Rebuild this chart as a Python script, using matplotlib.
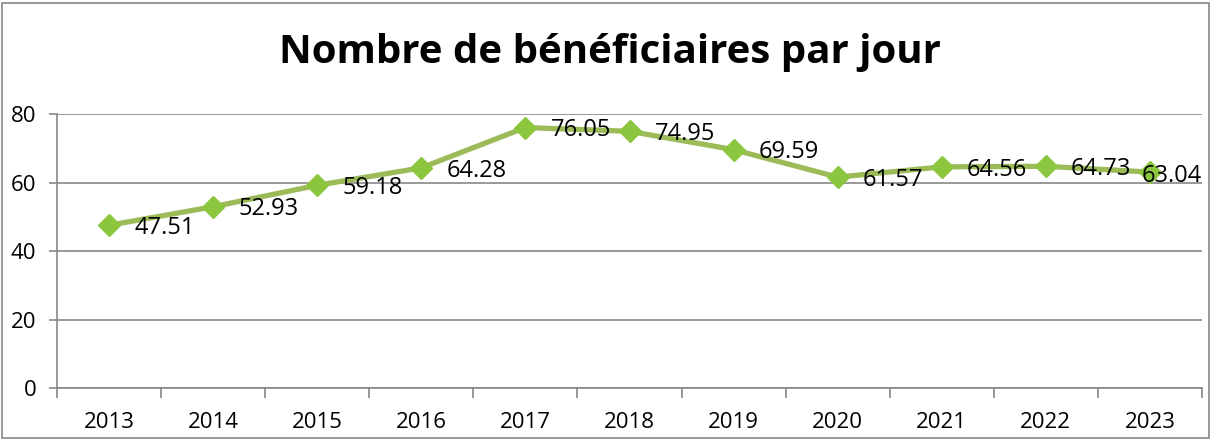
import matplotlib.pyplot as plt
from matplotlib.patches import Rectangle

years = ["2013", "2014", "2015", "2016", "2017", "2018", "2019", "2020", "2021", "2022", "2023"]
values = [47.51, 52.93, 59.18, 64.28, 76.05, 74.95, 69.59, 61.57, 64.56, 64.73, 63.04]
yticks = [0, 20, 40, 60, 80]

plt.rcParams['font.family'] = ['Open Sans', 'DejaVu Sans']

fig = plt.figure(figsize=(12.12, 4.41), dpi=100)
ax = fig.add_axes([57 / 1212, 1 - 388 / 441, (1202 - 57) / 1212, (388 - 114) / 441])

x = list(range(len(years)))
ax.plot(x, values, color="#9bbb59", linewidth=3.8, marker="D", markersize=11,
        markerfacecolor="#8cc63f", markeredgecolor="#8cc63f", zorder=3)
for xi, v in zip(x, values):
    if xi == len(years) - 1:
        # last label has no room on the right, pushed back over the point
        ax.annotate(f"{v:.2f}", (xi, v), xytext=(-6, -3), textcoords="offset points",
                    ha="left", va="center", fontsize=17, zorder=4)
    else:
        ax.annotate(f"{v:.2f}", (xi, v), xytext=(18, -2), textcoords="offset points",
                    ha="left", va="center", fontsize=17, zorder=4)

ax.set_xlim(-0.5, len(years) - 0.5)
ax.set_ylim(0, 80)
ax.set_yticks(yticks)
ax.tick_params(axis="y", labelsize=16, length=6, color="#888888", width=1.2, pad=9)
ax.grid(axis="y", color="#888888", linewidth=1.2)
ax.set_axisbelow(True)

# category labels centred, tick marks at boundaries
ax.set_xticks(x)
ax.set_xticklabels(years, fontsize=16)
ax.tick_params(axis="x", which="major", length=0, pad=17)
ax.set_xticks([i - 0.5 for i in range(len(years) + 1)], minor=True)
ax.tick_params(axis="x", which="minor", length=7, color="#888888", width=1.2)

for s in ["top", "right"]:
    ax.spines[s].set_visible(False)
for s in ["left", "bottom"]:
    ax.spines[s].set_color("#888888")
    ax.spines[s].set_linewidth(1.2)

fig.text(0.503, 0.88, "Nombre de bénéficiaires par jour", ha="center", va="center",
         fontsize=29, fontweight="bold")

fig.patches.append(Rectangle((2 / 1212, 3 / 441), 1207 / 1212, 435 / 441, transform=fig.transFigure,
                             fill=False, edgecolor="#888888", linewidth=1.2))

fig.savefig("out.png", dpi=100)
